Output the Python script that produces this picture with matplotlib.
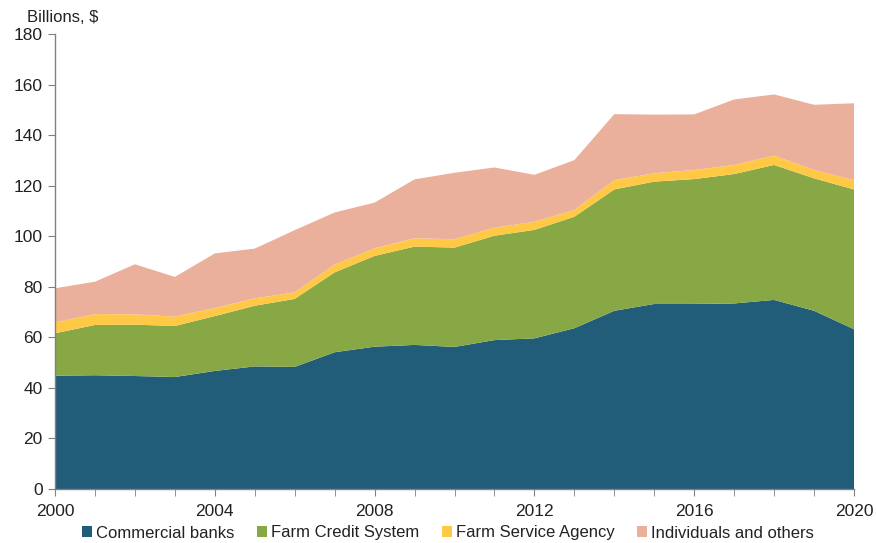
import matplotlib
matplotlib.use("Agg")
from matplotlib import pyplot as plt
from matplotlib.ticker import MultipleLocator
from matplotlib.patches import Patch

plt.rcParams['font.family'] = ['Liberation Sans', 'DejaVu Sans']

years = list(range(2000, 2021))

commercial_banks = [44.8, 45.0, 44.7, 44.3, 46.7, 48.5, 48.3, 54.1, 56.3, 57.0, 56.2,
                    58.9, 59.6, 63.6, 70.5, 73.2, 73.2, 73.4, 74.8, 70.5, 63.2]
farm_credit = [16.8, 19.9, 20.3, 20.2, 21.7, 24.0, 26.9, 31.6, 35.9, 38.9, 39.3,
               41.3, 42.9, 44.1, 48.0, 48.4, 49.4, 51.2, 53.4, 52.4, 55.3]
farm_service = [4.3, 4.3, 4.1, 3.7, 3.2, 2.9, 2.6, 3.1, 3.0, 3.3, 3.3,
                3.2, 3.2, 2.7, 3.7, 3.3, 3.6, 3.6, 3.7, 3.3, 3.7]
individuals = [13.5, 12.8, 19.8, 15.7, 21.6, 19.7, 24.6, 20.6, 18.1, 23.3, 26.3,
               23.8, 18.6, 19.7, 26.1, 23.2, 22.0, 25.9, 24.2, 25.8, 30.4]

labels = ["Commercial banks", "Farm Credit System", "Farm Service Agency", "Individuals and others"]
colors = ["#215c78", "#88a845", "#ffc945", "#ebb09c"]

fig = plt.figure(figsize=(8.76, 5.43), dpi=100)
ax = fig.add_axes([55 / 876, 54 / 543, 799 / 876, 455 / 543])

ax.stackplot(years, commercial_banks, farm_credit, farm_service, individuals,
             colors=colors, linewidth=0)

ax.set_xlim(2000, 2020)
ax.set_ylim(0, 180)
ax.yaxis.set_major_locator(MultipleLocator(20))
ax.xaxis.set_major_locator(MultipleLocator(4))
ax.xaxis.set_minor_locator(MultipleLocator(1))

for side in ("top", "right"):
    ax.spines[side].set_visible(False)
for side in ("left", "bottom"):
    ax.spines[side].set_color("#808080")
    ax.spines[side].set_linewidth(1)

ax.tick_params(axis="both", which="both", color="#808080", labelsize=12.5, labelcolor="#222222")
ax.tick_params(axis="y", length=5, pad=4)
ax.tick_params(axis="x", which="major", length=5, pad=6)
ax.tick_params(axis="x", which="minor", length=5)

fig.text(27 / 876, 1 - 17 / 543, "Billions, $", fontsize=12, color="#222222", va="center")

handles = [Patch(facecolor=c, edgecolor="none") for c in colors]
fig.legend(handles, labels, loc="center", bbox_to_anchor=(448 / 876, 1 - 533 / 543), ncol=4,
           frameon=False, fontsize=12, handlelength=0.6, handleheight=0.6,
           handletextpad=0.25, columnspacing=1.35, labelcolor="#222222")

fig.savefig("out.png", dpi=100)
